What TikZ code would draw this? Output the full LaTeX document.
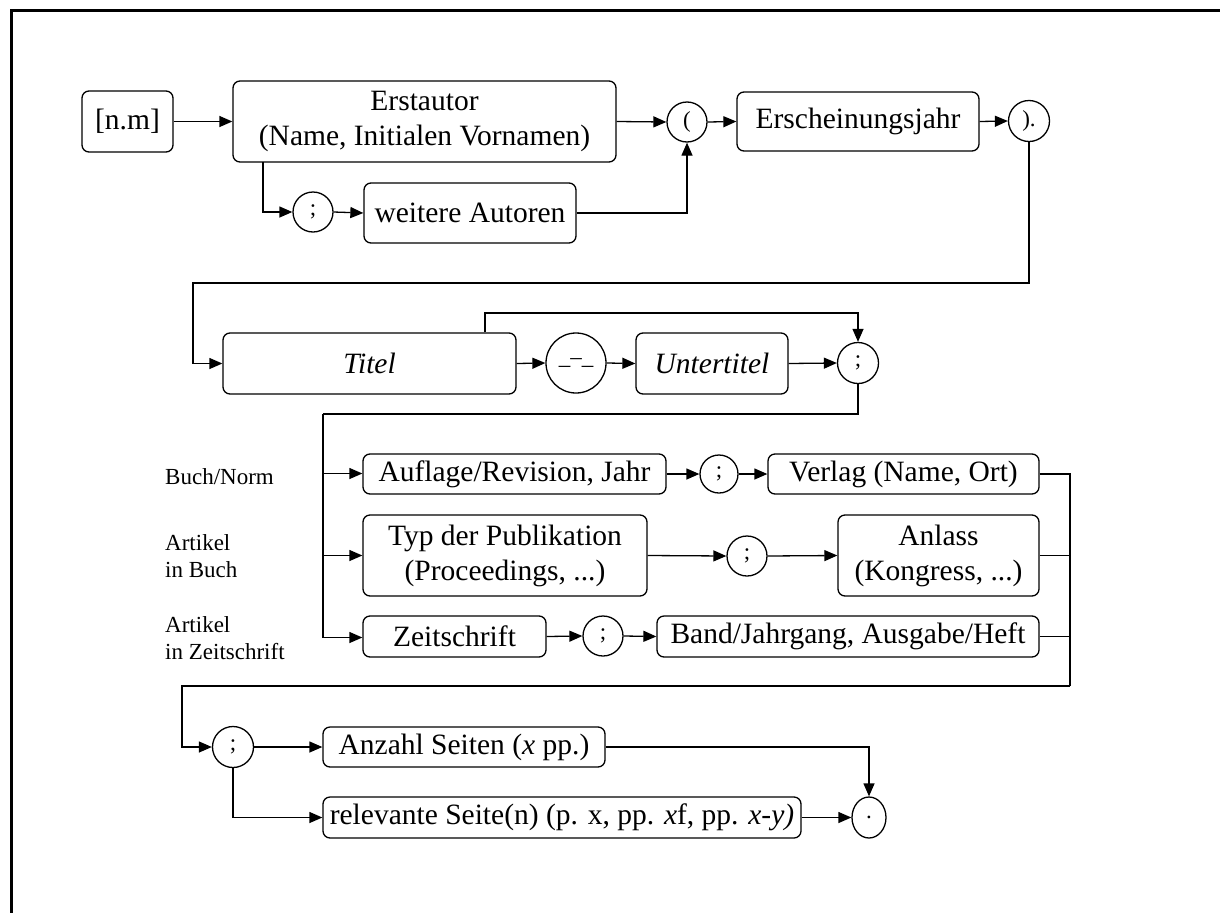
\documentclass[tikz,border=0pt]{standalone}
\usepackage{fontspec}
\setmainfont{Liberation Serif}
\usetikzlibrary{arrows.meta,shapes.geometric}
\begin{document}
\begin{tikzpicture}[x=1pt,y=-1pt,
 box/.style={draw,rounded corners=7pt,line width=1.3pt,inner sep=0pt,align=center,font=\fontsize{29.5}{35}\selectfont},
 circ/.style={draw,circle,line width=1.3pt,inner sep=0pt,minimum size=#1,font=\fontsize{23}{27}\selectfont},
 lbl/.style={anchor=west,align=left,font=\fontsize{23}{27}\selectfont,inner sep=0pt},
 arr/.style={line width=1.3pt,-{Triangle[length=13pt,width=11pt]}},
 ln/.style={line width=1.3pt}]
\useasboundingbox (0,0) rectangle (1220,913);
\draw[line width=3pt] (1220,10) -- (11,10) -- (11,913);

% row 1
\node[box,minimum width=91pt,minimum height=61pt] (nm) at (127.5,121.5) {[n.m]};
\node[box,minimum width=383pt,minimum height=81pt] (erst) at (424.5,121.5) {Erstautor\\(Name, Initialen Vornamen)};
\node[circ=40pt] (c1) at (687,122) {(};
\node[box,minimum width=242pt,minimum height=59pt] (jahr) at (858,121.5) {Erscheinungsjahr};
\node[circ=41pt] (c2) at (1029,121) {).};
\node[circ=40pt] (semi1) at (313,212) {;};
\node[box,minimum width=212pt,minimum height=60pt] (weit) at (470,213) {weitere Autoren};

% row 2
\node[box,minimum width=293pt,minimum height=61pt] (titel) at (369.5,363.5) {\textit{Titel}};
\node[circ=60pt] (dash) at (576,363) {\_--\_};
\node[box,minimum width=152pt,minimum height=61pt] (unter) at (712,363.5) {\textit{Untertitel}};
\node[circ=41pt] (semi2) at (858,363) {;};

% branches
\node[box,minimum width=303pt,minimum height=40pt] (aufl) at (514.5,474) {Auflage/Revision, Jahr};
\node[circ=38pt] (s3) at (719,474) {;};
\node[box,minimum width=271pt,minimum height=40pt] (verl) at (903.5,474) {Verlag (Name, Ort)};
\node[box,minimum width=284pt,minimum height=81pt] (typ) at (505,555.5) {Typ der Publikation\\(Proceedings, ...)};
\node[circ=40pt] (s4) at (747,556) {;};
\node[box,minimum width=201pt,minimum height=81pt] (anl) at (938.5,555.5) {Anlass\\(Kongress, ...)};
\node[box,minimum width=183pt,minimum height=41pt] (zeit) at (454.5,636.5) {Zeitschrift};
\node[circ=40pt] (s5) at (603,636) {;};
\node[box,minimum width=382pt,minimum height=41pt] (band) at (848,636.5) {Band/Jahrgang, Ausgabe/Heft};

\node[lbl] (l1) at (165,477) {Buch/Norm};
\node[lbl] (l2) at (165,556.5) {Artikel\\in Buch};
\node[lbl] (l3) at (165,638.5) {Artikel\\in Zeitschrift};

% last row
\node[circ=41pt] (s6) at (233,747) {;};
\node[box,minimum width=282pt,minimum height=40pt] (anz) at (464,747) {Anzahl Seiten (\textit{x} pp.)};
\node[box,minimum width=478pt,minimum height=41pt] (rel) at (562,817.5) {relevante Seite(n) (p. x, pp. \textit{x}f, pp. \textit{x-y)}};
\node[draw,ellipse,line width=1.3pt,minimum width=34pt,minimum height=41pt,inner sep=0pt,font=\fontsize{23}{27}\selectfont] (dot) at (869,817.5) {.};

% coordinates
\coordinate (k0) at (263,162);
\coordinate (k1) at (193,283);
\coordinate (k2) at (485,313);
\coordinate (k3) at (323,414);
\coordinate (k4) at (1070,686);
\coordinate (k5) at (182,686);

% connectors
\draw[arr] (nm.east) -- (erst.west);
\draw[arr] (erst.east) -- (c1.west);
\draw[arr] (k0) |- (semi1.west);
\draw[arr] (semi1.east) -- (weit.west);
\draw[arr] (weit.east) -| (c1.south);
\draw[arr] (c1.east) -- (jahr.west);
\draw[arr] (jahr.east) -- (c2.west);
\draw[arr] (c2.south) |- (k1) |- (titel.west);
\draw[arr] (titel.north -| k2) -- (k2) -| (semi2.north);
\draw[arr] (titel.east) -- (dash.west);
\draw[arr] (dash.east) -- (unter.west);
\draw[arr] (unter.east) -- (semi2.west);
\draw[ln] (semi2.south) |- (k3);
\draw[arr] (k3) |- ([yshift=0.5pt]aufl.west);
\draw[arr] (k3) |- (typ.west);
\draw[arr] (k3) |- ([yshift=-1pt]zeit.west);
\draw[arr] (aufl.east) -- (s3.west);
\draw[arr] (s3.east) -- (verl.west);
\draw[arr] (typ.east) -- (s4.west);
\draw[arr] (s4.east) -- (anl.west);
\draw[arr] (zeit.east) -- (s5.west);
\draw[arr] (s5.east) -- (band.west);
\draw[ln] (verl.east) -| (k4);
\draw[ln] (anl.east) -- (anl.east -| k4);
\draw[ln] (band.east) -- (band.east -| k4);
\draw[arr] (k4) -- (k5) |- (s6.west);
\draw[arr] (s6.east) -- (anz.west);
\draw[arr] (s6.south) |- (rel.west);
\draw[arr] (anz.east) -| (dot.north);
\draw[arr] (rel.east) -- (dot.west);
\end{tikzpicture}
\end{document}
